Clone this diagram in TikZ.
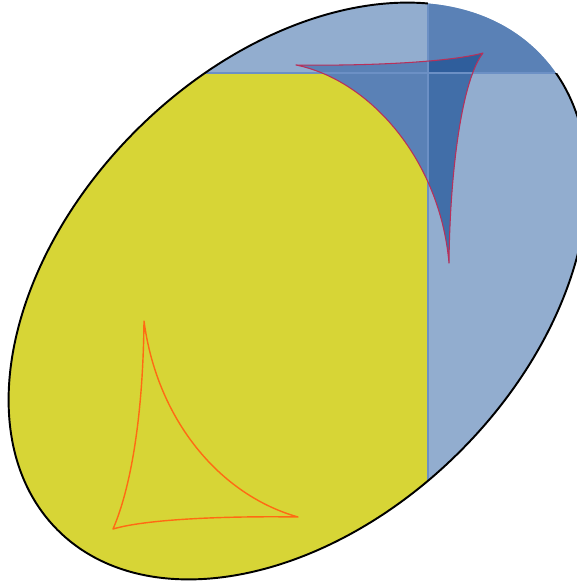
\documentclass[tikz,border=0pt]{standalone}
\usetikzlibrary{positioning}
\definecolor{skyfill}{HTML}{92ADCF}
\definecolor{midfill}{HTML}{5A81B6}
\definecolor{deepfill}{HTML}{416EA8}
\definecolor{darkfill}{HTML}{2F5E9C}
\definecolor{lemon}{HTML}{D7D536}
\definecolor{splitline}{HTML}{6C90C5}
\definecolor{rim}{HTML}{B8305A}
\definecolor{ember}{HTML}{FF6A13}
\begin{document}
\begin{tikzpicture}[x=0.02cm,y=-0.02cm]
\useasboundingbox (0,0) rectangle (577,583);
\coordinate (ctr) at (298,291);
\coordinate (cuspL) at (296,65);
\coordinate (cuspR) at (483,53);
\coordinate (cuspB) at (449,263);
\coordinate (tipT) at (144,321);
\coordinate (tipL) at (113,529);
\coordinate (tipR) at (298,517);
\tikzset{
  egg/.style={rotate around={44.74:(ctr)}},
  deltoid/.style={line join=round},
}
\fill[skyfill, egg] (ctr) ellipse [x radius=339, y radius=228];
\begin{scope}
\clip[egg] (ctr) ellipse [x radius=339, y radius=228];
\fill[lemon] (-10,73) rectangle (428,600);
\fill[midfill] (428,-10) rectangle (600,73);
\fill[midfill] (cuspL) .. controls (370,66) and (450,62) .. (cuspR)
  .. controls (462,80) and (450,170) .. (cuspB)
  .. controls (440,160) and (370,80) .. (cuspL) -- cycle;
\begin{scope}
\clip (428,73) rectangle (600,600);
\fill[deepfill] (cuspL) .. controls (370,66) and (450,62) .. (cuspR)
  .. controls (462,80) and (450,170) .. (cuspB)
  .. controls (440,160) and (370,80) .. (cuspL) -- cycle;
\end{scope}
\begin{scope}
\clip (428,-10) rectangle (600,73);
\fill[darkfill] (cuspL) .. controls (370,66) and (450,62) .. (cuspR)
  .. controls (462,80) and (450,170) .. (cuspB)
  .. controls (440,160) and (370,80) .. (cuspL) -- cycle;
\end{scope}
\draw[splitline, line width=0.9pt] (428,-10) -- (428,600);
\draw[splitline, line width=0.9pt] (-10,73) -- (600,73);
\end{scope}
\draw[rim, line width=0.6pt, deltoid] (cuspL) .. controls (370,66) and (450,62) .. (cuspR)
  .. controls (462,80) and (450,170) .. (cuspB)
  .. controls (440,160) and (370,80) .. (cuspL) -- cycle;
\begin{scope}
\clip (-10,-10) -- (428,-10) -- (428,73) -- (600,73) -- (600,600) -- (-10,600) -- cycle;
\draw[black, line width=1.1pt, egg] (ctr) ellipse [x radius=339, y radius=228];
\end{scope}
\draw[ember, line width=0.8pt, deltoid] (tipT) .. controls (157,420) and (220,495) .. (tipR)
  .. controls (240,516) and (150,518) .. (tipL)
  .. controls (130,490) and (143,420) .. (tipT) -- cycle;
\end{tikzpicture}
\end{document}
